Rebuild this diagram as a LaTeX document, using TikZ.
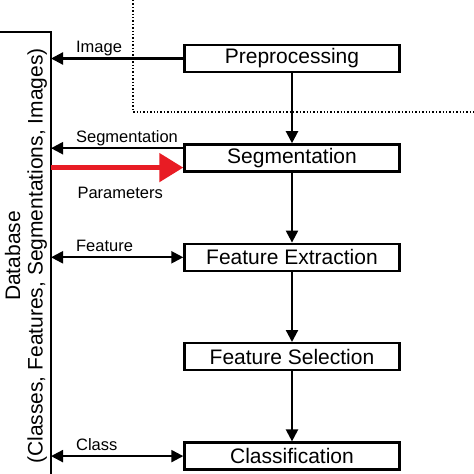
\documentclass[tikz,border=0pt]{standalone}
\usepackage{fontspec}
\setmainfont{Liberation Sans}
\usetikzlibrary{arrows.meta,positioning}
\definecolor{paramred}{RGB}{232,28,36}
\tikzset{
	stage/.style={draw, line width=2.4pt, minimum width=215pt, minimum height=27pt, inner sep=0pt, font=\fontsize{21}{22}\selectfont},
	flow/.style={line width=2.2pt, -{Triangle[length=12pt,width=12pt]}},
	both/.style={line width=2.2pt, {Triangle[length=12pt,width=12pt]}-{Triangle[length=12pt,width=12pt]}},
	lab/.style={anchor=base west, inner sep=0pt, xshift=24pt, yshift=6pt, font=\fontsize{16.5}{18}\selectfont}
}
\begin{document}
\begin{tikzpicture}[x=1pt,y=-1pt]
	\useasboundingbox (0,0) rectangle (474,474);
	\clip (0,0) rectangle (474,474);

	% database on the left
	\draw[line width=2.4pt] (-10,32) rectangle (51,490);
	\node[rotate=90, align=center, inner sep=0pt, font=\fontsize{21}{22.5}\selectfont] (db) at (26,256) {Database\\(Classes, Features, Segmentations, Images)};
	\coordinate (dbr) at (51,0);

	\draw[dotted, line width=1.4pt] (133,0) -- (133,112) -- (480,112);

	% stages
	\node[stage] (pre) at (292,58.5) {Preprocessing};
	\node[stage, below=70pt of pre] (seg) {Segmentation};
	\node[stage, below=70pt of seg] (fext) {Feature Extraction};
	\node[stage, below=70pt of fext] (fsel) {Feature Selection};
	\node[stage, below=70pt of fsel] (cls) {Classification};

	\draw[flow] (pre) -- (seg);
	\draw[flow] (seg) -- (fext);
	\draw[flow] (fext) -- (fsel);
	\draw[flow] (fsel) -- (cls);

	% exchange with the database
	\draw[flow] (pre.west) -- (pre.west -| dbr) node[lab]{Image};
	\draw[flow] ([yshift=-5pt]seg.north west) -- ([yshift=-5pt]seg.north west -| dbr) node[lab]{Segmentation};
	\draw[line width=5pt, paramred, -{Triangle[length=24pt,width=28pt]}] ([yshift=5pt]seg.south west -| dbr) node[lab, black, yshift=-37pt]{Parameters} -- ([yshift=5pt]seg.south west);
	\draw[both] (fext.west) -- (fext.west -| dbr) node[lab]{Feature};
	\draw[both] (cls.west) -- (cls.west -| dbr) node[lab]{Class};
\end{tikzpicture}
\end{document}
